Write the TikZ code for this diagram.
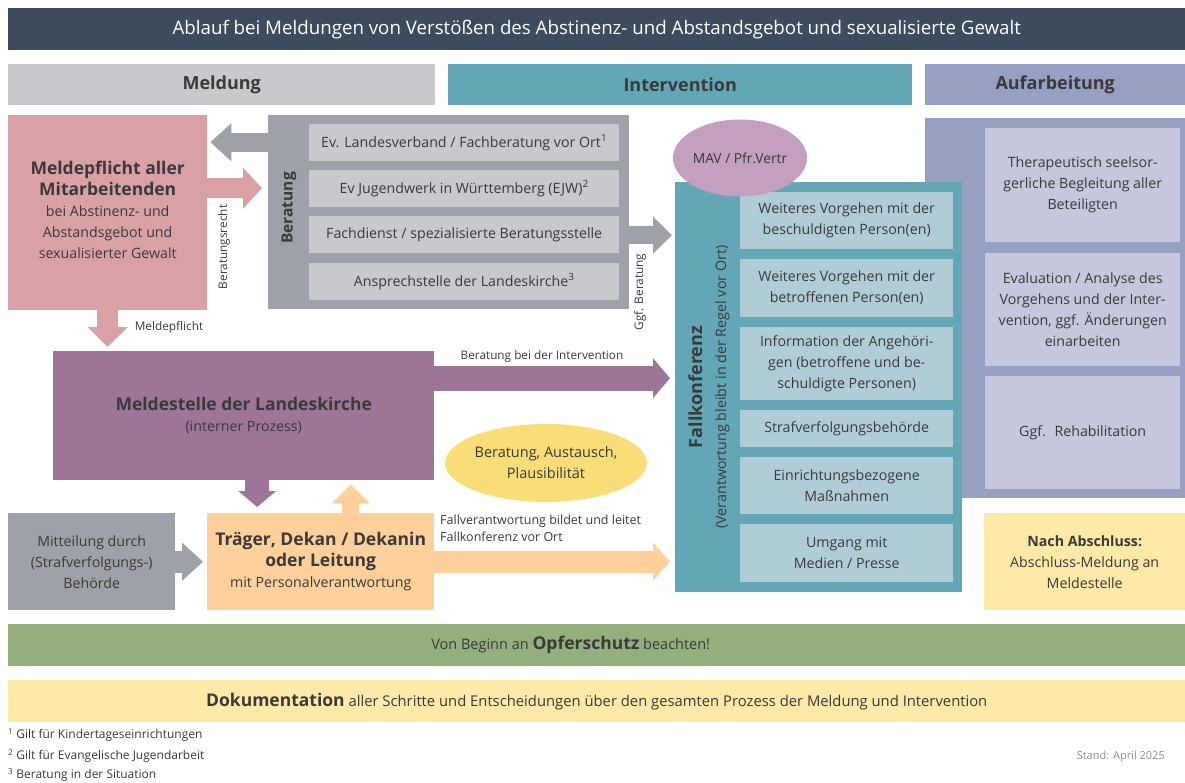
\documentclass[tikz,border=0pt]{standalone}
\usepackage{fontspec}
\setmainfont{Open Sans}
\usetikzlibrary{arrows.meta,shapes.geometric}

\definecolor{ctitle}{HTML}{3D4B5E}
\definecolor{clgray}{HTML}{C8C9CD}
\definecolor{cgray}{HTML}{9FA1A8}
\definecolor{cteal}{HTML}{63A7B6}
\definecolor{clteal}{HTML}{B0CDD7}
\definecolor{cauf}{HTML}{979FC2}
\definecolor{clauf}{HTML}{C5C8DC}
\definecolor{cpink}{HTML}{D9A1A6}
\definecolor{cpurple}{HTML}{9D7597}
\definecolor{corange}{HTML}{FDD09C}
\definecolor{cyellow}{HTML}{F9DD77}
\definecolor{cpale}{HTML}{FDE9A8}
\definecolor{cmav}{HTML}{C4A0C0}
\definecolor{cgreen}{HTML}{93B07C}
\definecolor{ctext}{HTML}{3A3A3A}

\newcommand{\hdtext}[1]{{\bfseries\fontsize{17.5}{22}\selectfont #1}}

\begin{document}
\begin{tikzpicture}[x=1pt,y=-1pt]
\tikzstyle{box} = [
  anchor=north west,
  inner sep=0pt,
  align=center,
  text=ctext,
  font=\fontsize{14.2}{21}\selectfont
]
\tikzstyle{head} = [
  box,
  minimum height=41pt,
  font=\bfseries\fontsize{18}{20}\selectfont
]
\tikzstyle{small} = [
  inner sep=0pt,
  text=ctext,
  font=\fontsize{11.8}{14}\selectfont
]
\tikzstyle{blockarrow} = [
  line width=21pt,
  -{Triangle[width=38pt,length=19pt]}
]

\useasboundingbox (0,0) rectangle (1185,783);

% title and phases
\node [box, fill=ctitle, minimum width=1177pt, minimum height=42pt, text=white,
  font=\fontsize{18.7}{20}\selectfont] (title) at (8,8)
  {Ablauf bei Meldungen von Verstößen des Abstinenz- und Abstandsgebot und sexualisierte Gewalt};
\node [head, fill=clgray, minimum width=427pt] (hmeld) at (8,64) {Meldung};
\node [head, fill=cteal, minimum width=464pt] (hint) at (448,64) {Intervention};
\node [head, fill=cauf, minimum width=260pt] (hauf) at (925,64) {Aufarbeitung};

% Meldung
\node [box, fill=cpink, minimum width=199pt, minimum height=195pt] (meld) at (8,115) {};
\node [box, anchor=center] (meldtxt) at ([yshift=3pt]meld.center)
  {\hdtext{Meldepflicht aller}\\\hdtext{Mitarbeitenden}\\
   bei Abstinenz- und\\Abstandsgebot und\\sexualisierter Gewalt};

\node [box, fill=cgray, minimum width=361pt, minimum height=194pt] (berat) at (268,115) {};
\node [box, fill=clgray, minimum width=310pt, minimum height=37pt] (b1) at (309,124)
  {Ev. Landesverband / Fachberatung vor Ort\textsuperscript{1}};
\node [box, fill=clgray, minimum width=310pt, minimum height=37pt] (b2) at (309,170)
  {Ev Jugendwerk in Württemberg (EJW)\textsuperscript{2}};
\node [box, fill=clgray, minimum width=310pt, minimum height=37pt] (b3) at (309,216)
  {Fachdienst / spezialisierte Beratungsstelle};
\node [box, fill=clgray, minimum width=310pt, minimum height=37pt] (b4) at (309,263)
  {Ansprechstelle der Landeskirche\textsuperscript{3}};
\node [rotate=90, text=ctext, font=\bfseries\fontsize{15.5}{18}\selectfont] (bl) at (289,208) {Beratung};

\node [box, fill=cpurple, minimum width=381pt, minimum height=129pt] (meldst) at (53,351)
  {\hdtext{Meldestelle der Landeskirche}\\(interner Prozess)};

\node [box, fill=cgray, minimum width=167pt, minimum height=97pt] (mitt) at (8,513)
  {Mitteilung durch\\(Strafverfolgungs-)\\Behörde};
\node [box, fill=corange, minimum width=227pt, minimum height=97pt] (trag) at (207,513)
  {\hdtext{Träger, Dekan / Dekanin}\\\hdtext{oder Leitung}\\mit Personalverantwortung};

\node [ellipse, fill=cyellow, minimum width=194pt, minimum height=78pt, inner sep=0pt,
  align=center, text=ctext, font=\fontsize{14.5}{21}\selectfont] (plaus) at (546,463)
  {Beratung, Austausch,\\Plausibilität};

% Aufarbeitung
\node [box, fill=cauf, minimum width=260pt, minimum height=380pt] (auf) at (925,118) {};
\node [box, fill=clauf, minimum width=195pt, minimum height=114pt] (a1) at (985,128)
  {Therapeutisch seelsor-\\gerliche Begleitung aller\\Beteiligten};
\node [box, fill=clauf, minimum width=195pt, minimum height=113pt] (a2) at (985,253)
  {Evaluation / Analyse des\\Vorgehens und der Inter-\\vention, ggf. Änderungen\\einarbeiten};
\node [box, fill=clauf, minimum width=195pt, minimum height=113pt] (a3) at (985,376)
  {Ggf.~ Rehabilitation};
\node [box, fill=cpale, minimum width=201pt, minimum height=97pt] (nach) at (984,513)
  {\textbf{Nach Abschluss:}\\Abschluss-Meldung an\\Meldestelle};

% Intervention
\node [box, fill=cteal, minimum width=287pt, minimum height=410pt] (fall) at (675,182) {};
\node [box, fill=clteal, minimum width=213pt, minimum height=57pt] (f1) at (740,192)
  {Weiteres Vorgehen mit der\\beschuldigten Person(en)};
\node [box, fill=clteal, minimum width=213pt, minimum height=58pt] (f2) at (740,259)
  {Weiteres Vorgehen mit der\\betroffenen Person(en)};
\node [box, fill=clteal, minimum width=213pt, minimum height=73pt] (f3) at (740,327)
  {Information der Angehöri-\\gen (betroffene und be-\\schuldigte Personen)};
\node [box, fill=clteal, minimum width=213pt, minimum height=37pt] (f4) at (740,410)
  {Strafverfolgungsbehörde};
\node [box, fill=clteal, minimum width=213pt, minimum height=57pt] (f5) at (740,457)
  {Einrichtungsbezogene\\Maßnahmen};
\node [box, fill=clteal, minimum width=213pt, minimum height=58pt] (f6) at (740,524)
  {Umgang mit\\Medien / Presse};
\node [rotate=90, align=center, text=ctext, font=\fontsize{14.3}{24}\selectfont] (fl) at (709,387)
  {\textbf{\fontsize{18}{24}\selectfont Fallkonferenz}\\(Verantwortung bleibt in der Regel vor Ort)};
\node [ellipse, fill=cmav, minimum width=134pt, minimum height=77pt, inner sep=0pt,
  text=ctext, font=\fontsize{13.8}{16}\selectfont] (mav) at (740,158) {MAV / Pfr.Vertr};

% arrows
\coordinate (pr) at ([yshift=24.5pt]meld.east);
\coordinate (gl) at ([yshift=70pt]berat.west);
\coordinate (gr) at ([yshift=-23pt]berat.east);
\coordinate (ur) at ([yshift=37.5pt]meldst.east);
\coordinate (pd) at (meld.south);
\coordinate (ud) at ([xshift=13.5pt]meldst.south);
\coordinate (ou) at ([xshift=30pt]trag.north);

\draw [blockarrow, cpink, line width=20pt, -{Triangle[width=40pt,length=19pt]}]
  (pr) -- ([xshift=-6pt]berat.west |- pr);
\draw [blockarrow, cgray, line width=19pt, -{Triangle[width=37pt,length=21pt]}]
  (gl) -- ([xshift=3pt]meld.east |- gl);
\draw [blockarrow, cgray, line width=18pt, -{Triangle[width=36pt,length=19pt]}]
  (gr) -- ([xshift=-3pt]fall.west |- gr);
\draw [blockarrow, cpurple, line width=25pt, -{Triangle[width=39pt,length=17pt]}]
  (ur) -- ([xshift=-5pt]fall.west |- ur);
\draw [blockarrow, corange, line width=22pt, -{Triangle[width=37pt,length=17pt]}]
  (trag.east) -- ([xshift=-5pt]fall.west |- trag.east);
\draw [blockarrow, cpink, line width=21pt, -{Triangle[width=39pt,length=20pt]}]
  (pd) -- ([yshift=4pt]pd |- meldst.north);
\draw [blockarrow, cpurple, line width=24pt, -{Triangle[width=37pt,length=16pt]}]
  (ud) -- ([yshift=6pt]ud |- trag.north);
\draw [blockarrow, corange, line width=17pt, -{Triangle[width=37pt,length=19pt]}]
  (ou) -- ([yshift=-4pt]ou |- meldst.south);
\draw [blockarrow, cgray, line width=22pt, -{Triangle[width=37pt,length=21pt]}]
  (mitt.east) -- ([xshift=-4pt]trag.west);

% arrow labels
\node [small, rotate=90] (lrecht) at (224,247) {Beratungsrecht};
\node [small] (lpflicht) at (169,327) {Meldepflicht};
\node [small, rotate=90] (lggf) at (640,292) {Ggf. Beratung};
\node [small] (lint) at (542,356) {Beratung bei der Intervention};
\node [small, anchor=north west, align=left, font=\fontsize{12.5}{17}\selectfont] (lfall) at (440,515)
  {Fallverantwortung bildet und leitet\\Fallkonferenz vor Ort};

% bottom bars
\node [box, fill=cgreen, minimum width=1177pt, minimum height=42pt] (opfer) at (8,624) {};
\node [text=ctext, font=\fontsize{14.5}{18}\selectfont] (opfertxt) at ([xshift=-26pt]opfer.center)
  {Von Beginn an \textbf{\fontsize{17.5}{18}\selectfont Opferschutz} beachten!};
\node [box, fill=cpale, minimum width=1177pt, minimum height=42pt, font=\fontsize{14.8}{18}\selectfont] (doku) at (8,680)
  {\textbf{\fontsize{17.5}{18}\selectfont Dokumentation} aller Schritte und Entscheidungen über den gesamten Prozess der Meldung und Intervention};

% footnotes
\node [small, anchor=west, font=\fontsize{12}{13}\selectfont] (fn1) at (8,735) {\textsuperscript{1} Gilt für Kindertageseinrichtungen};
\node [small, anchor=west, font=\fontsize{12}{13}\selectfont] (fn2) at (8,756) {\textsuperscript{2} Gilt für Evangelische Jugendarbeit};
\node [small, anchor=west, font=\fontsize{12}{13}\selectfont] (fn3) at (8,775) {\textsuperscript{3} Beratung in der Situation};
\node [small, anchor=east, text=black!45, font=\fontsize{11}{13}\selectfont] (stand) at (1165,757) {Stand: April 2025};

\end{tikzpicture}
\end{document}
